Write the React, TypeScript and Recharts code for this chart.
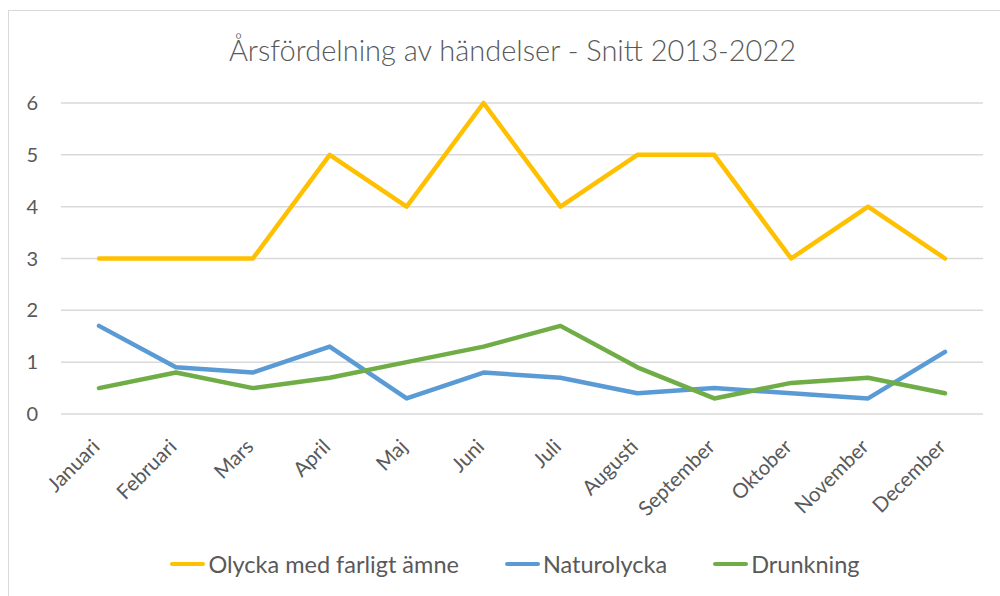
import React from 'react';
import { LineChart, Line, XAxis, YAxis, CartesianGrid, Legend } from 'recharts';

const months = [
  'Januari', 'Februari', 'Mars', 'April', 'Maj', 'Juni',
  'Juli', 'Augusti', 'September', 'Oktober', 'November', 'December',
];
const farligtAmne = [3, 3, 3, 5, 4, 6, 4, 5, 5, 3, 4, 3];
const naturolycka = [1.7, 0.9, 0.8, 1.3, 0.3, 0.8, 0.7, 0.4, 0.5, 0.4, 0.3, 1.2];
const drunkning = [0.5, 0.8, 0.5, 0.7, 1.0, 1.3, 1.7, 0.9, 0.3, 0.6, 0.7, 0.4];
const yTicks = [0, 1, 2, 3, 4, 5, 6];

const series = [
  { key: 'farligt', name: 'Olycka med farligt ämne', color: '#FFC000', values: farligtAmne },
  { key: 'natur', name: 'Naturolycka', color: '#5B9BD5', values: naturolycka },
  { key: 'drunk', name: 'Drunkning', color: '#70AD47', values: drunkning },
];

const FONT = 'Lato, "Open Sans", sans-serif';
const TEXT = '#595959';

const chartData = months.map((m, i) => ({
  month: m,
  farligt: farligtAmne[i],
  natur: naturolycka[i],
  drunk: drunkning[i],
}));

function MonthTick(props: any) {
  const { x, y, payload } = props;
  const px = x + 2;
  const py = y + 26;
  return (
    <text
      x={px}
      y={py}
      transform={`rotate(-45 ${px} ${py})`}
      textAnchor="end"
      fill={TEXT}
      fontSize={20.5}
      fontFamily={FONT}
    >
      {payload.value}
    </text>
  );
}

function LegendContent() {
  return (
    <div style={{ display: 'flex', justifyContent: 'center', alignItems: 'center', gap: 46, marginLeft: 47, paddingTop: 4 }}>
      {series.map((s) => (
        <div key={s.key} style={{ display: 'flex', alignItems: 'center' }}>
          <span style={{ display: 'inline-block', width: 35, height: 4, borderRadius: 2, background: s.color, marginRight: 3 }} />
          <span style={{ fontFamily: FONT, fontSize: 23.5, color: TEXT }}>{s.name}</span>
        </div>
      ))}
    </div>
  );
}

export default function App() {
  return (
    <div style={{ position: 'absolute', left: 0, top: 0, width: 1000, height: 596, overflow: 'hidden', background: '#fff' }}>
      <div style={{ position: 'absolute', left: 8, top: 10, width: 1100, height: 700, border: '1px solid #D9D9D9' }} />
      <div
        style={{
          position: 'absolute', left: 0, top: 32, width: 1025, textAlign: 'center',
          fontFamily: FONT, fontSize: 29, color: TEXT, fontWeight: 300,
        }}
      >
        Årsfördelning av händelser - Snitt 2013-2022
      </div>
      <LineChart
        width={1000}
        height={596}
        data={chartData}
        margin={{ top: 103, right: 17, left: 0, bottom: 0 }}
        style={{ position: 'absolute', left: 0, top: 0 }}
      >
        <CartesianGrid vertical={false} stroke="#D9D9D9" strokeWidth={1.5} />
        <XAxis
          dataKey="month"
          axisLine={false}
          tickLine={false}
          interval={0}
          height={132}
          padding={{ left: 38, right: 38 }}
          tick={<MonthTick />}
        />
        <YAxis
          domain={[0, 6]}
          ticks={yTicks}
          axisLine={false}
          tickLine={false}
          width={61}
          tick={{ fill: TEXT, fontSize: 20, fontFamily: FONT, dx: -15 }}
        />
        <Legend verticalAlign="bottom" height={50} content={<LegendContent />} />
        {series.map((s) => (
          <Line
            key={s.key}
            dataKey={s.key}
            name={s.name}
            stroke={s.color}
            strokeWidth={4.5}
            strokeLinecap="round"
            strokeLinejoin="round"
            dot={false}
            activeDot={false}
            type="linear"
            isAnimationActive={false}
          />
        ))}
      </LineChart>
    </div>
  );
}
